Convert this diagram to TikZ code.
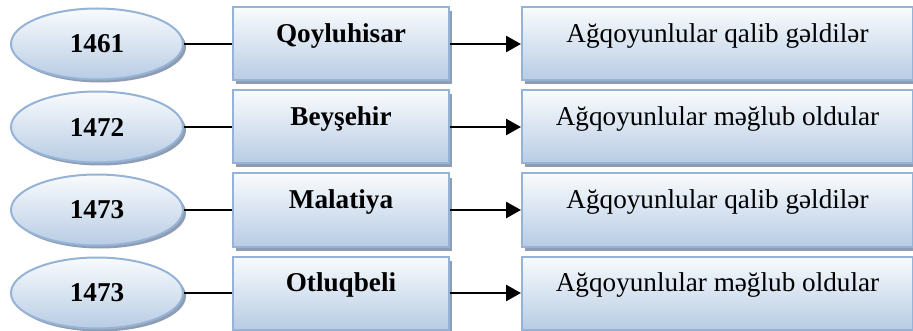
\documentclass[tikz,border=0pt]{standalone}
\usepackage{fontspec}
\setmainfont{Liberation Serif}
\usepackage{xcolor}
\usepackage{tikz}
\usetikzlibrary{arrows.meta,positioning,shapes.geometric,shadows}
\definecolor{Ink}{HTML}{000000}
\definecolor{Edge}{HTML}{95B3D7}
\definecolor{PaleTop}{HTML}{F9FBFD}
\definecolor{PaleBot}{HTML}{B8CCE4}
\definecolor{Shade}{HTML}{8E9DB2}

\begin{document}
\begin{tikzpicture}[node distance=24pt,>={Triangle[length=7.5pt,width=8pt]}]
\tikzset{yearbox/.style={ellipse,minimum width=86pt,minimum height=35.5pt,inner sep=0pt,draw=Edge,line width=1pt,top color=PaleTop,bottom color=PaleBot,text=Ink,font=\fontsize{13.6}{16}\selectfont\bfseries,drop shadow={shadow xshift=1.5pt,shadow yshift=-1.5pt,fill=Shade,opacity=1}},
 placebox/.style={rectangle,minimum width=108pt,inner ysep=0pt,text height=17.5pt,text depth=19pt,draw=Edge,line width=1pt,top color=PaleTop,bottom color=PaleBot,text=Ink,font=\fontsize{13.6}{16}\selectfont\bfseries,drop shadow={shadow xshift=1.5pt,shadow yshift=-2pt,fill=Shade,opacity=1}},
 resultbox/.style={placebox,minimum width=195.5pt,font=\fontsize{13.6}{16}\selectfont},
 link/.style={line width=1pt,Ink},
 arrow/.style={->,line width=1.25pt,Ink}}
\useasboundingbox (0,0) rectangle (456.5pt,-165.5pt);
% rows
\node[yearbox] (y1) at (48.5pt,-22pt) {1461};
\node[placebox,right=of y1] (p1) {Qoyluhisar};
\node[resultbox,right=35.5pt of p1] (r1) {Ağqoyunlular qalib gəldilər};
\node[yearbox] (y2) at (48.5pt,-63.5pt) {1472};
\node[placebox,right=of y2] (p2) {Beyşehir};
\node[resultbox,right=35.5pt of p2] (r2) {Ağqoyunlular məğlub oldular};
\node[yearbox] (y3) at (48.5pt,-105pt) {1473};
\node[placebox,right=of y3] (p3) {Malatiya};
\node[resultbox,right=35.5pt of p3] (r3) {Ağqoyunlular qalib gəldilər};
\node[yearbox] (y4) at (48.5pt,-146.5pt) {1473};
\node[placebox,right=of y4] (p4) {Otluqbeli};
\node[resultbox,right=35.5pt of p4] (r4) {Ağqoyunlular məğlub oldular};
% connectors
\draw[link] (y1) -- (p1);
\draw[link] (y2) -- (p2);
\draw[link] (y3) -- (p3);
\draw[link] (y4) -- (p4);
\draw[arrow] (p1) -- (r1);
\draw[arrow] (p2) -- (r2);
\draw[arrow] (p3) -- (r3);
\draw[arrow] (p4) -- (r4);
\end{tikzpicture}
\end{document}
